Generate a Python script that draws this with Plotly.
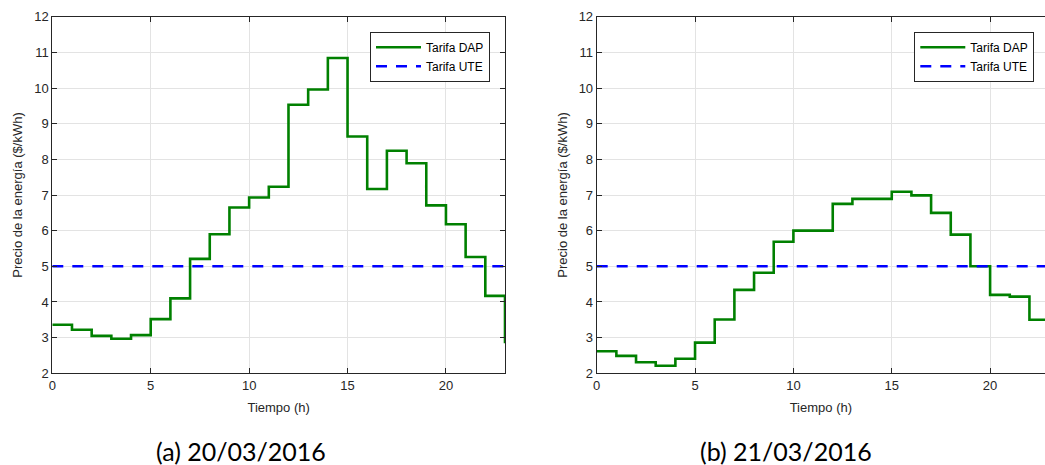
import plotly.graph_objects as go

hours = list(range(24))
dap_a = [3.36, 3.22, 3.05, 2.97, 3.07, 3.52, 4.10, 5.21, 5.90, 6.65, 6.93, 7.23,
         9.53, 9.96, 10.84, 8.64, 7.17, 8.24, 7.89, 6.71, 6.18, 5.26, 4.17, 2.84]
dap_b = [2.62, 2.49, 2.31, 2.21, 2.41, 2.86, 3.51, 4.34, 4.82, 5.69, 6.00, 6.00,
         6.75, 6.89, 6.89, 7.09, 6.99, 6.50, 5.89, 5.00, 4.20, 4.15, 3.50, 3.40]
ute = [5.0] * 24
yticks = list(range(2, 13))
xticks = [0, 5, 10, 15, 20]
captions = ["(a) 20/03/2016", "(b) 21/03/2016"]

W, H = 1045, 465
GREEN = "#008000"
BLUE = "#0000ff"
DARK = "#262626"
GRID = "#e3e3e3"
FONT = "Liberation Sans, Arial, sans-serif"

fig = go.Figure()

for i, (vals, leg) in enumerate([(dap_a, "legend"), (dap_b, "legend2")]):
    xa = "x" if i == 0 else "x2"
    ya = "y" if i == 0 else "y2"
    fig.add_trace(go.Scatter(x=hours, y=vals, mode="lines", line_shape="hv",
                             line=dict(color=GREEN, width=2.6), name="Tarifa DAP",
                             xaxis=xa, yaxis=ya, legend=leg))
    fig.add_trace(go.Scatter(x=hours, y=ute, mode="lines",
                             line=dict(color=BLUE, width=2.6, dash="11px,9px"),
                             name="Tarifa UTE", xaxis=xa, yaxis=ya, legend=leg))

ydom = [1 - 373.3 / H, 1 - 16.7 / H]
common_x = dict(tickvals=xticks, ticks="inside", ticklen=5, tickcolor=DARK,
                showline=True, linecolor=DARK, linewidth=1, showgrid=True,
                gridcolor=GRID, gridwidth=1, zeroline=False, automargin=False,
                tickfont=dict(family=FONT, size=13, color=DARK),
                title=dict(text="Tiempo (h)", font=dict(family=FONT, size=13, color=DARK), standoff=10))
common_y = dict(tickvals=yticks, range=[2, 12], ticks="inside", ticklen=5, tickcolor=DARK,
                showline=True, linecolor=DARK, linewidth=1, showgrid=True,
                gridcolor=GRID, gridwidth=1, zeroline=False, domain=ydom, automargin=False,
                tickfont=dict(family=FONT, size=13, color=DARK),
                title=dict(text="Precio de la energía ($/kWh)",
                           font=dict(family=FONT, size=13, color=DARK), standoff=8))

legend_common = dict(xanchor="right", yanchor="top", bgcolor="white", bordercolor=DARK,
                     borderwidth=1, font=dict(family=FONT, size=12, color="black"),
                     tracegroupgap=0, itemwidth=45)

fig.update_layout(
    width=W, height=H, margin=dict(l=0, r=0, t=0, b=0, autoexpand=False),
    paper_bgcolor="white", plot_bgcolor="white",
    xaxis=dict(common_x, domain=[52.3 / W, 505 / W], range=[0, 23], anchor="y", mirror="ticks"),
    yaxis=dict(common_y, anchor="x", mirror="ticks"),
    xaxis2=dict(common_x, domain=[596.7 / W, 1.0], range=[0, (1045 - 596.7) / 19.67],
                anchor="y2", mirror="ticks"),
    yaxis2=dict(common_y, anchor="x2", mirror=False),
    legend=dict(legend_common, x=490 / W, y=1 - 31.7 / H),
    legend2=dict(legend_common, x=1034.3 / W, y=1 - 31.7 / H),
    showlegend=True,
)

for cx, text in zip([241, 786], captions):
    fig.add_annotation(x=cx / W, y=1 - 451 / H, xref="paper", yref="paper",
                       text=text, showarrow=False, xanchor="center", yanchor="middle",
                       font=dict(family="Lato, sans-serif", size=25, color="black"))

fig.write_html("out.html", config={"displayModeBar": False},
               post_script="document.body.style.margin='0px';document.body.style.overflow='hidden';")
